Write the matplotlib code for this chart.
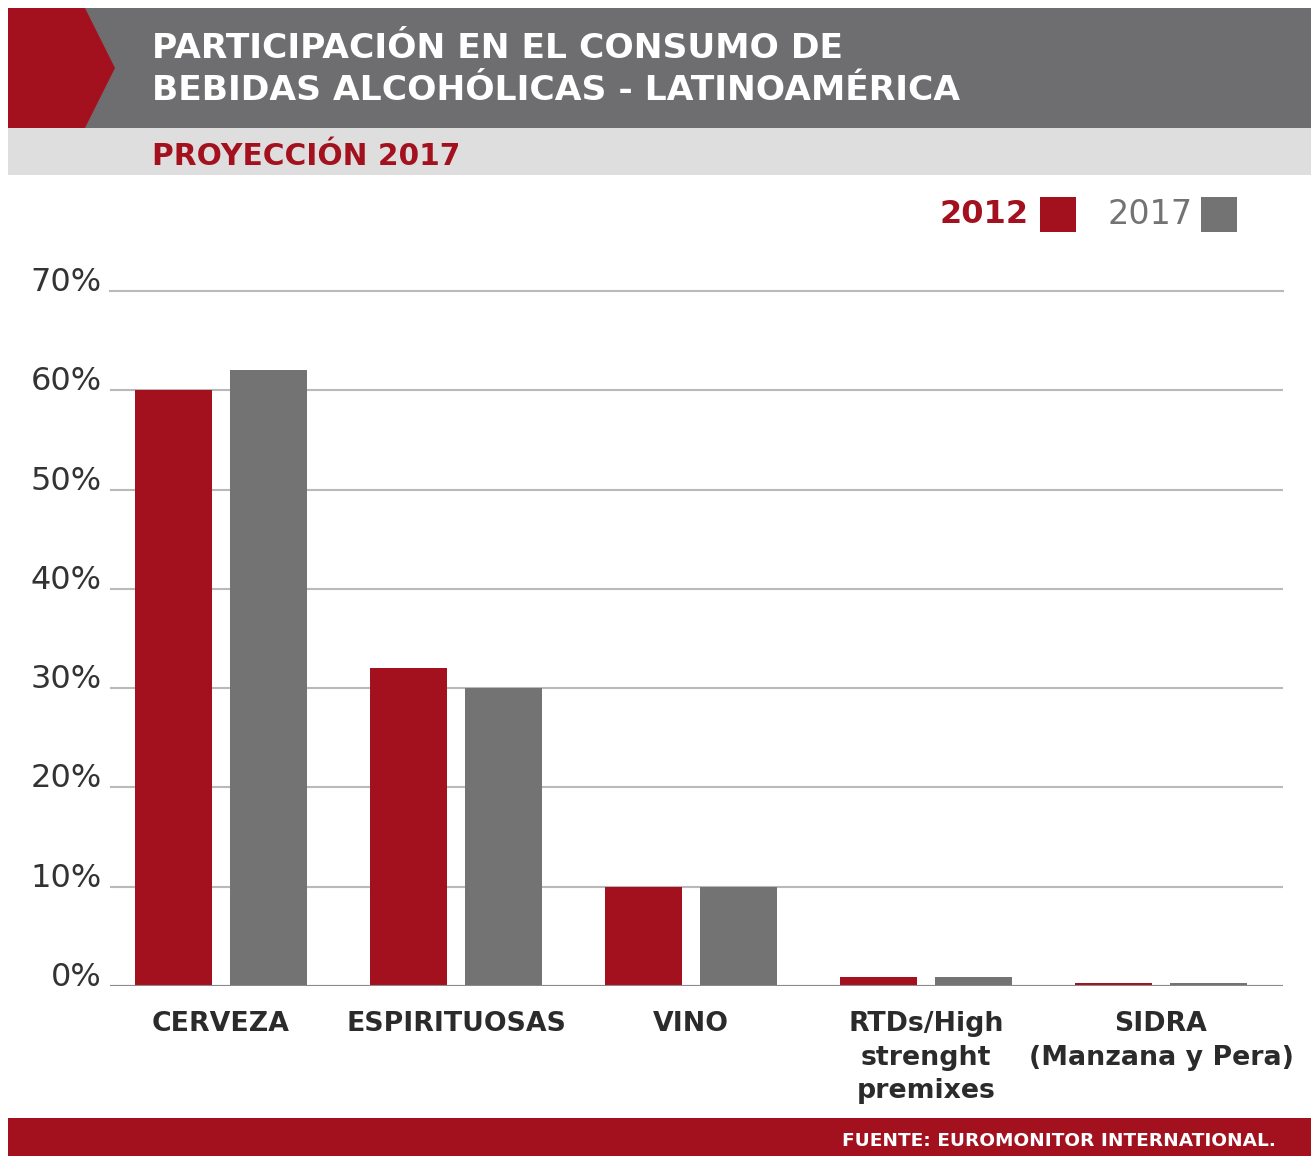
import matplotlib.pyplot as plt
import matplotlib.patches as mpatches
import numpy as np

categories = ["CERVEZA", "ESPIRITUOSAS", "VINO", "RTDs/High\nstrenght\npremixes", "SIDRA\n(Manzana y Pera)"]
share_2012 = [60, 32, 10, 0.9, 0.35]
share_2017 = [62, 30, 10, 0.9, 0.35]
yticks = [0, 10, 20, 30, 40, 50, 60, 70]

RED = "#a3111f"
GRAY = "#737373"
W, H = 1311, 1156

plt.rcParams['font.family'] = ['DejaVu Sans']
fig = plt.figure(figsize=(W / 100, H / 100), dpi=100)
fig.patch.set_facecolor("white")


def fx(px):
    return px / W


def fy(py):
    return 1 - py / H


# ====== header bands =====
fig.add_artist(mpatches.Rectangle((fx(8), fy(128)), fx(W - 8), 120 / H, transform=fig.transFigure,
                                  color="#6e6e70", lw=0))
arrow = [(8, 8), (85, 8), (115, 68), (85, 128), (8, 128)]
fig.add_artist(mpatches.Polygon([(fx(x), fy(y)) for x, y in arrow], closed=True,
                                transform=fig.transFigure, color=RED, lw=0))
fig.add_artist(mpatches.Rectangle((fx(8), fy(175)), fx(W - 8), 47 / H, transform=fig.transFigure,
                                  color="#dedede", lw=0))
fig.add_artist(mpatches.Rectangle((fx(8), 0), fx(W - 8), 38 / H, transform=fig.transFigure,
                                  color=RED, lw=0))

fig.text(fx(152), fy(49), "PARTICIPACIÓN EN EL CONSUMO DE", color="white", fontsize=24.8,
         fontweight="bold", va="center", ha="left")
fig.text(fx(152), fy(91), "BEBIDAS ALCOHÓLICAS - LATINOAMÉRICA", color="white", fontsize=24.8,
         fontweight="bold", va="center", ha="left")
fig.text(fx(152), fy(156), "PROYECCIÓN 2017", color=RED, fontsize=21.3,
         fontweight="bold", va="center", ha="left")
fig.text(fx(1276), fy(1141), "FUENTE: EUROMONITOR INTERNATIONAL.", color="white", fontsize=13.3,
         fontweight="bold", va="center", ha="right")

# ====== legend =====
fig.text(fx(1029), fy(214), "2012", color=RED, fontsize=23, fontweight="bold", va="center", ha="right")
fig.add_artist(mpatches.Rectangle((fx(1040), fy(232)), 36 / W, 35 / H, transform=fig.transFigure,
                                  color=RED, lw=0))
fig.text(fx(1193), fy(214), "2017", color=GRAY, fontsize=24, va="center", ha="right")
fig.add_artist(mpatches.Rectangle((fx(1201), fy(232)), 36 / W, 35 / H, transform=fig.transFigure,
                                  color=GRAY, lw=0))

# ====== bars =====
ax = fig.add_axes([fx(110), fy(986), fx(1283) - fx(110), (986 - 291) / H])
x = np.arange(len(categories))
bw = 0.328
off = 0.203
ax.bar(x - off, share_2012, bw, color=RED, zorder=3)
ax.bar(x + off, share_2017, bw, color=GRAY, zorder=3)

ax.set_xlim(-0.472, 4.519)
ax.set_ylim(0, 70)
ax.set_yticks(yticks)
ax.set_yticklabels([f"{v}%" for v in yticks], fontsize=23, color="#333333", va="baseline")
ax.yaxis.grid(True, color="#b9b9b9", lw=1.5, zorder=0)
ax.axhline(0, color="#8a8a8a", lw=1.5, zorder=4)
ax.get_ygridlines()[-1].set_clip_on(False)
for s in ax.spines.values():
    s.set_visible(False)
ax.tick_params(axis="y", length=0, pad=6)
ax.tick_params(axis="x", length=0, pad=18)
ax.set_xticks(x)
ax.set_xticklabels(categories, fontsize=19.3, fontweight="bold", color="#2b2b2b", linespacing=1.38)

fig.savefig("out.png", dpi=100)
